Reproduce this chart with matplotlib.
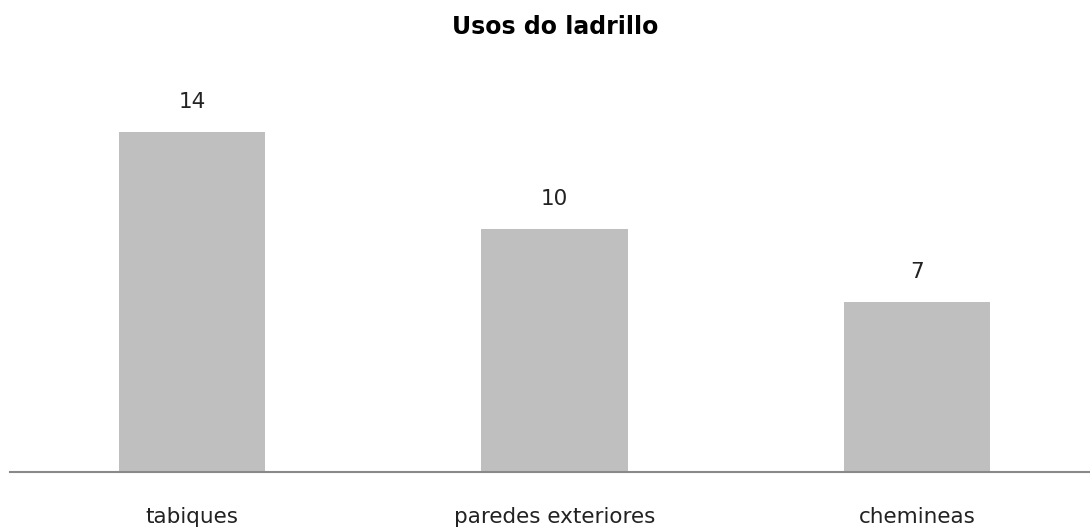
import matplotlib.pyplot as plt

categories = ["tabiques", "paredes exteriores", "chemineas"]
values = [14, 10, 7]

W, H = 1090, 532
fig = plt.figure(figsize=(W / 100, H / 100), dpi=100)
# axes in pixel terms: left 10, right 1090, baseline y=472, top y=60
ax = fig.add_axes([10 / W, (H - 472) / H, 1080 / W, (472 - 60) / H])

x = range(len(categories))
bars = ax.bar(x, values, width=0.403, color="#bfbfbf")
ax.set_xlim(-0.502, 2.477)
ax.set_ylim(0, (472 - 60) / 24.3)

for b, v in zip(bars, values):
    ax.text(b.get_x() + b.get_width() / 2, v + 30 / 24.3, str(v),
            ha="center", va="center", fontsize=15.5, color="#222222")

ax.set_xticks(list(x))
ax.set_xticklabels(categories, fontsize=15.5, color="#222222")
ax.tick_params(axis="x", length=0, pad=25)
ax.set_yticks([])
for s in ["top", "right", "left"]:
    ax.spines[s].set_visible(False)
ax.spines["bottom"].set_color("#898989")
ax.spines["bottom"].set_linewidth(1.5)

fig.text(555 / W, 1 - 27 / H, "Usos do ladrillo", ha="center", va="center",
         fontsize=17, fontweight="bold")

fig.savefig("out.png", dpi=100)
